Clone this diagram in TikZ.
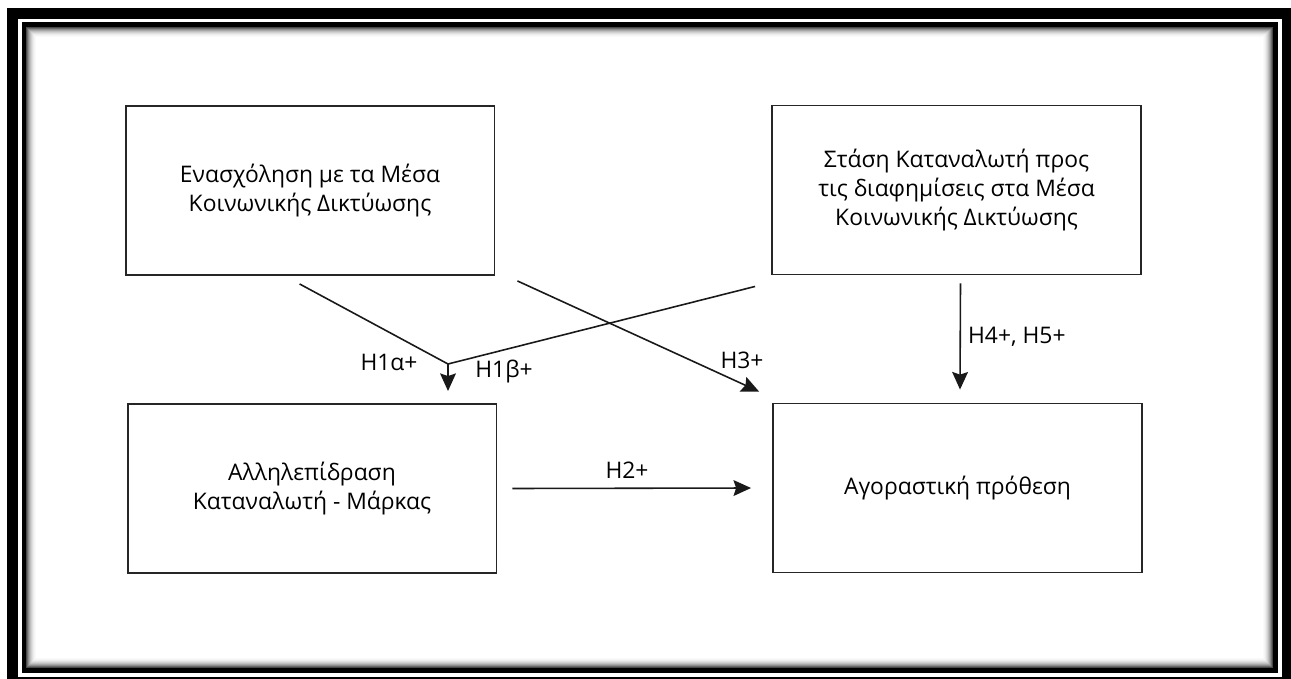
\documentclass[tikz,border=0pt]{standalone}
\usepackage{fontspec}
\setmainfont{Open Sans}
\usetikzlibrary{arrows.meta}
\begin{document}
\begin{tikzpicture}[x=0.02cm, y=-0.02cm, >={Stealth[length=10pt, width=9pt, inset=1.5pt]},
    font=\fontsize{13}{16.4}\selectfont,
    bloc/.style={draw=black!85, line width=1.1pt, minimum width=7.38cm, minimum height=3.38cm, align=center, inner sep=0pt},
    bel/.style={inner sep=1pt},
    syn/.style={->, line width=0.9pt, black!90}]
			\useasboundingbox (0,0) rectangle (1291,679);
			\clip (0,0) rectangle (1291,679);
			% Πλαίσιο με διπλή γραμμή και εσωτερική σκιά
			\fill[black] (7,8) rectangle (1300,690);
			\fill[white] (18,19) rectangle (1282,677);
			\fill[black] (22,22) rectangle (1278,673);
			\foreach \i/\g in {0/72,1/58,2/45,3/34,4/25,5/18,6/12,7/7,8/4,9/2}
			\fill[black!\g] (26+\i,27+\i) rectangle (1273-\i,668-\i);
			\fill[white] (36,37) rectangle (1263,658);
			% Μεταβλητές του μοντέλου
			\node[bloc] (eng) at (310,190.5) {Ενασχόληση με τα Μέσα\\Κοινωνικής Δικτύωσης};
			\node[bloc] (att) at (956.5,190) {Στάση Καταναλωτή προς\\τις διαφημίσεις στα Μέσα\\Κοινωνικής Δικτύωσης};
			\node[bloc] (inter) at (312,488.5) {Αλληλεπίδραση\\Καταναλωτή - Μάρκας};
			\node[bloc] (purch) at (957.5,488) {Αγοραστική πρόθεση};
			% Υποθέσεις H1
			\coordinate (j) at (448,364);
			\draw[line width=0.9pt, black!90] ([shift={(175,8)}]eng.south west) -- (j);
			\draw[line width=0.9pt, black!90] ([shift={(-16,11)}]att.south west) -- (j);
			\draw[syn] (j) -- ++(0,27);
			% Υποθέσεις H2, H3, H4, H5
			\draw[syn] ([shift={(22,5)}]eng.south east) -- ([shift={(-13,-11)}]purch.north west);
			\draw[syn] ([shift={(4,8)}]att.south) -- ([shift={(2.5,-13)}]purch.north);
			\draw[syn] ([shift={(15,0)}]inter.east) -- ([shift={(-21,0)}]purch.west);
			% Ετικέτες
			\node[bel] (h1a) at (389,362) {H1α+};
			\node[bel] (h1b) at (504,372) {H1β+};
			\node[bel] (h3) at (742,360) {H3+};
			\node[bel, anchor=west] (h45) at (966,337) {H4+, H5+};
			\node[bel] (h2) at (627,470) {H2+};
		\end{tikzpicture}
\end{document}
